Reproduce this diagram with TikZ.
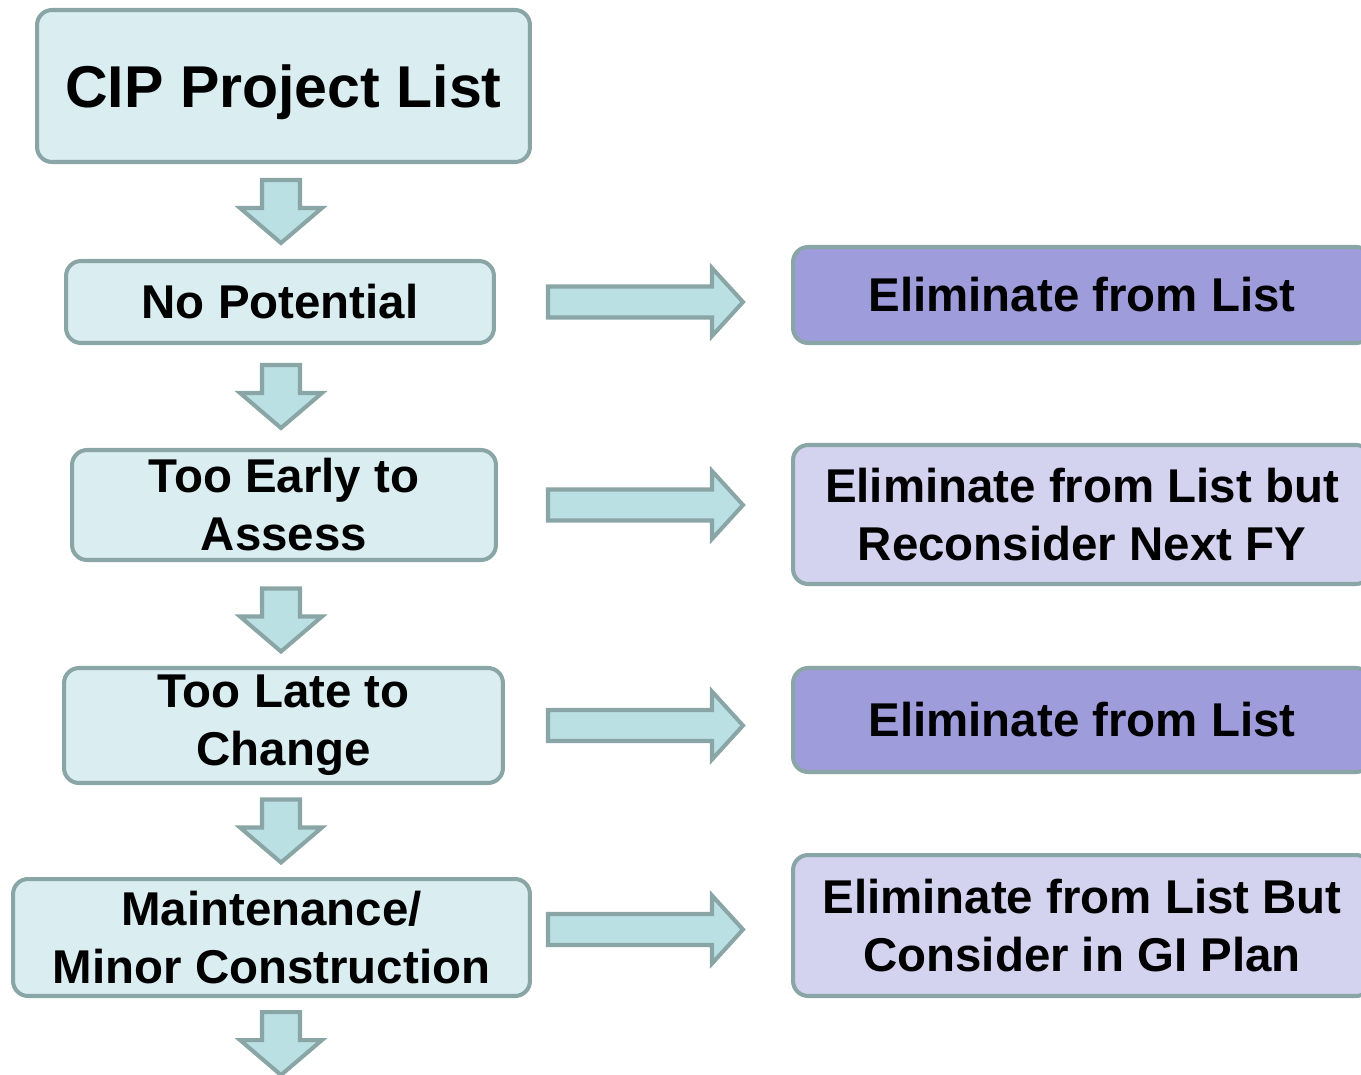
\documentclass[tikz,border=0pt]{standalone}
\usepackage{fontspec}
\setmainfont{Liberation Sans}
\usetikzlibrary{positioning}
\usetikzlibrary{calc}
\definecolor{bordo}{HTML}{8AA5A6}
\definecolor{chiaro}{HTML}{DAEDF0}
\definecolor{freccia}{HTML}{BAE0E3}
\definecolor{viola}{HTML}{9F9CDC}
\definecolor{lilla}{HTML}{D3D2EF}
\begin{document}
\begin{tikzpicture}[x=0.02cm,y=-0.02cm,align=center,
font=\fontsize{27}{33}\selectfont\bfseries,
passo/.style={draw=bordo,line width=2.3pt,fill=chiaro,rounded corners=0.3cm,inner sep=0pt},
esito/.style={passo,minimum width=11.56cm},
blk/.style={draw=bordo,line width=2.3pt,fill=freccia,line join=miter},
giu/.pic={\draw[blk] (-19,-31.5) -- (19,-31.5) -- (19,-3.5) -- (41,-3.5) -- (0,31.5) -- (-41,-3.5) -- (-19,-3.5) -- cycle;},
destra/.pic={\draw[blk] (-97.5,-15.5) -- (66.5,-15.5) -- (66.5,-34) -- (97.5,0) -- (66.5,34) -- (66.5,15.5) -- (-97.5,15.5) -- cycle;}
]
\useasboundingbox (0,0) rectangle (1361,1074);
%--
\node[passo,minimum width=9.86cm,minimum height=3.04cm,text depth=0pt,font=\fontsize{33.6}{40}\selectfont\bfseries](cip) at (283.5,86){CIP Project List};
\node[passo,minimum width=8.56cm,minimum height=1.64cm](np) at (280,302){No Potential};
\node[passo,minimum width=8.48cm,minimum height=2.2cm](te) at (284,505){Too Early to\\Assess};
\node[passo,minimum width=8.78cm,minimum height=2.3cm](tl) at (283.5,725.5){Too Late to\\Change};
\node[passo,minimum width=10.34cm,minimum height=2.34cm](mm) at (271.5,937.5){Maintenance/\\Minor Construction};
%--
\node[esito,fill=viola,minimum height=1.92cm](el1) at (1082,295){Eliminate from List};
\node[esito,fill=lilla,minimum height=2.78cm](el2) at (1082,514.5){Eliminate from List but\\Reconsider Next FY};
\node[esito,fill=viola,minimum height=2.08cm](el3) at (1082,720){Eliminate from List};
\node[esito,fill=lilla,minimum height=2.82cm](el4) at (1082,925.5){Eliminate from List But\\Consider in GI Plan};
%--
\coordinate (dx) at (281,0);
\coordinate (g1) at ($(cip.south)!0.5!(np.north)$);
\coordinate (g2) at ($(np.south)!0.5!(te.north)$);
\coordinate (g3) at ($(te.south)!0.5!(tl.north)+(0,6)$);
\coordinate (g4) at ($(tl.south)!0.5!(mm.north)$);
\coordinate (g5) at ($(mm.south)+(0,45.5)$);
\foreach \g in {g1,g2,g3,g4,g5}
  \pic at (dx |- \g) {giu};
%--
\coordinate (ax) at (645.5,0);
\pic at (ax |- np) {destra};
\pic at (ax |- te) {destra};
\pic at (ax |- tl) {destra};
\pic at ($(ax |- mm)+(0,-8)$) {destra};
\end{tikzpicture}
\end{document}
